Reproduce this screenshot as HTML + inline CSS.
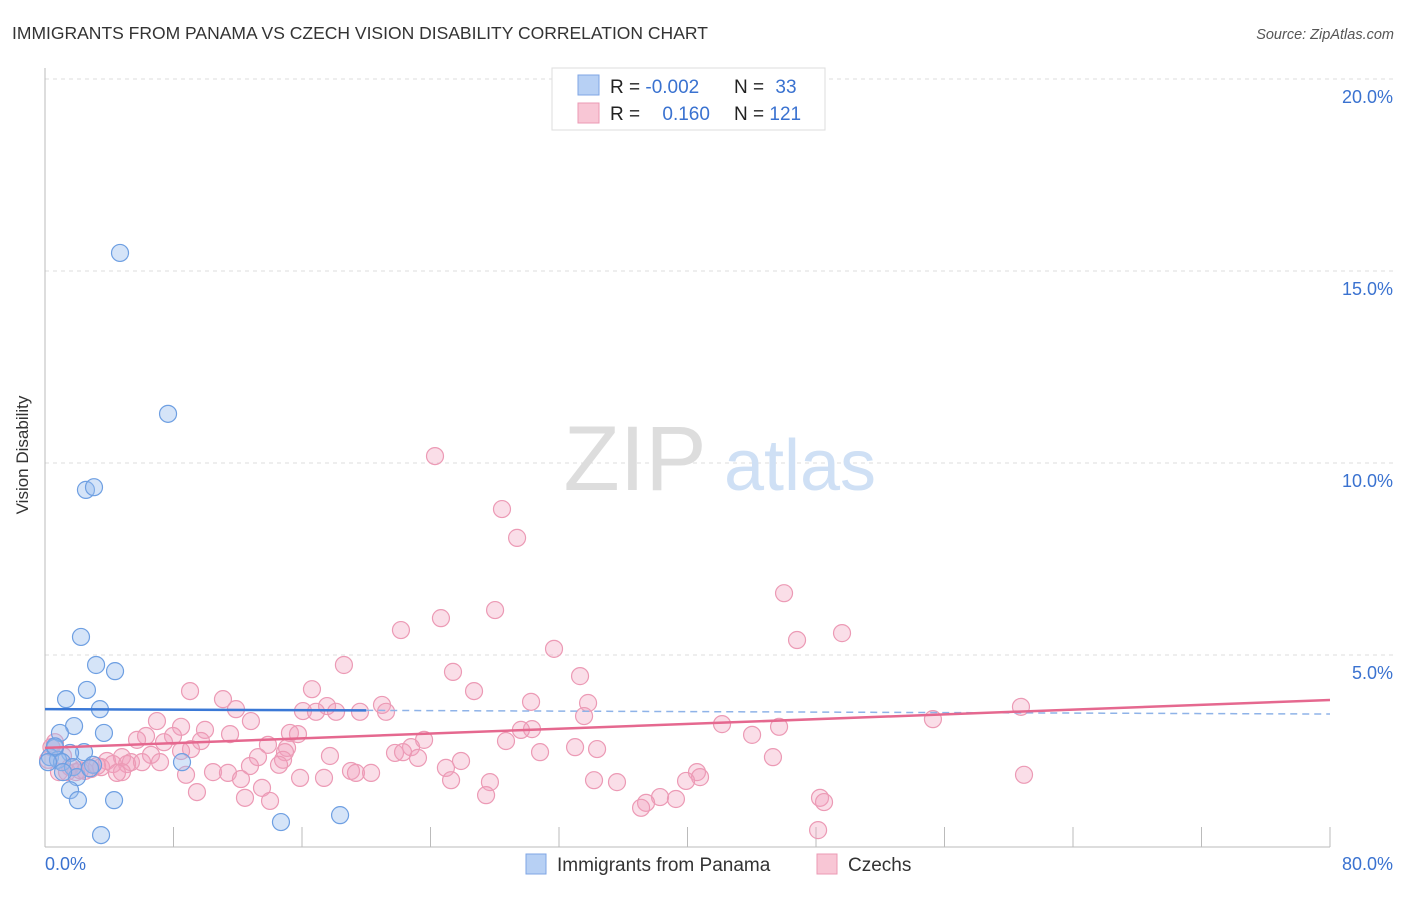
<!DOCTYPE html>
<html><head><meta charset="utf-8"><style>
body{margin:0;background:#fff;font-family:"Liberation Sans",sans-serif}
svg text{font-family:"Liberation Sans",sans-serif}
</style></head><body>
<svg id="c" width="1406" height="892">
<text x="12" y="39" font-size="17.5" fill="#333">IMMIGRANTS FROM PANAMA VS CZECH VISION DISABILITY CORRELATION CHART</text>
<text x="1394" y="39" font-size="14.5" fill="#555" text-anchor="end" font-style="italic">Source: ZipAtlas.com</text>
<text x="28" y="455" font-size="17" fill="#333" text-anchor="middle" transform="rotate(-90 28 455)">Vision Disability</text>
<g id="grid"></g>
<g id="wm">
<text x="635" y="490" font-size="92" fill="#ddd" font-family="Liberation Serif" text-anchor="middle">ZIP</text>
<text x="800" y="490" font-size="72" fill="#cfe0f5" text-anchor="middle">atlas</text></g>
<g id="axes"></g>
<g id="pts"></g>
<g id="trend"></g>
<g>
<rect x="552" y="68" width="273" height="62" fill="#fff" stroke="#ddd"/>
<rect x="578" y="75" width="21" height="20" fill="#b7d0f4" stroke="#7fa6e4"/>
<rect x="578" y="103" width="21" height="20" fill="#f8c6d5" stroke="#eb9ab4"/>
<text x="610" y="93" font-size="19" fill="#222">R = <tspan fill="#3a72d0">-0.002</tspan></text>
<text x="734" y="93" font-size="19" fill="#222">N = <tspan fill="#3a72d0" dx="6">33</tspan></text>
<text x="610" y="120" font-size="19" fill="#222">R = <tspan fill="#3a72d0" dx="17">0.160</tspan></text>
<text x="734" y="120" font-size="19" fill="#222">N = <tspan fill="#3a72d0">121</tspan></text>
</g>
<g>
<rect x="526" y="854" width="20" height="20" fill="#b7d0f4" stroke="#7fa6e4"/>
<text x="557" y="871" font-size="19" fill="#333">Immigrants from Panama</text>
<rect x="817" y="854" width="20" height="20" fill="#f8c6d5" stroke="#eb9ab4"/>
<text x="848" y="871" font-size="19" fill="#333">Czechs</text>
</g>
</svg>
<script>
const yTicks=[5,10,15,20];
const yTickLabels=["5.0%","10.0%","15.0%","20.0%"];
const xTicks=[0,8,16,24,32,40,48,56,64,72,80];
const xTickLabels=["0.0%","80.0%"];
const panamaX=[4.67,7.66,2.55,3.05,2.24,3.18,4.36,1.31,2.61,3.42,1.81,0.93,3.67,2.43,1.56,0.62,0.31,0.81,1.06,1.74,2.99,1.99,1.56,2.05,4.30,8.53,3.49,14.69,18.37,0.62,0.19,1.12,2.80];
const panamaY=[15.47,11.28,9.30,9.37,5.47,4.74,4.58,3.85,4.09,3.59,3.15,2.97,2.97,2.47,2.45,2.58,2.34,2.27,2.21,2.08,2.14,1.82,1.48,1.22,1.22,2.21,0.31,0.65,0.83,2.62,2.21,1.95,2.05];
const czechX=[24.28,28.45,29.39,46.01,28.02,24.65,22.16,49.62,46.82,31.69,18.61,25.40,33.31,9.03,16.62,26.71,11.08,11.89,16.06,17.56,20.98,30.26,33.81,16.87,18.12,19.61,21.23,33.56,60.76,55.28,6.97,12.82,42.15,45.70,8.47,9.96,15.25,15.75,30.32,29.63,6.29,7.97,5.73,7.41,11.52,9.71,23.60,44.02,13.88,15.07,22.79,28.70,33.00,34.37,9.09,8.47,17.74,21.79,22.29,23.22,30.82,6.60,4.79,3.86,5.35,14.94,14.82,7.16,13.26,25.90,45.32,12.76,14.57,24.96,40.59,40.78,60.95,2.86,3.49,4.23,5.11,6.04,4.79,4.48,8.78,10.46,11.39,12.20,15.88,17.37,19.05,19.36,20.30,25.28,27.70,34.18,35.61,39.91,13.51,9.46,12.45,14.01,27.46,38.29,39.28,37.42,37.11,48.25,48.50,48.13,0.87,1.56,1.93,0.62,1.12,2.49,3.24,0.19,1.37,2.18,0.40];
const czechY=[10.18,8.80,8.05,6.61,6.17,5.96,5.65,5.57,5.39,5.16,4.74,4.56,4.45,4.06,4.11,4.06,3.85,3.59,3.54,3.67,3.70,3.78,3.75,3.52,3.52,3.52,3.52,3.41,3.65,3.33,3.28,3.28,3.20,3.13,3.13,3.05,2.97,2.94,3.07,3.05,2.89,2.89,2.79,2.73,2.94,2.76,2.79,2.92,2.66,2.58,2.60,2.76,2.60,2.55,2.55,2.50,2.37,2.45,2.47,2.32,2.47,2.40,2.34,2.24,2.21,2.47,2.27,2.21,2.34,2.24,2.34,2.11,2.14,2.06,1.95,1.82,1.88,2.03,2.08,2.16,2.16,2.21,1.95,1.93,1.88,1.95,1.93,1.77,1.80,1.80,1.98,1.93,1.93,1.74,1.69,1.74,1.69,1.72,1.54,1.43,1.28,1.20,1.35,1.30,1.25,1.15,1.02,1.28,1.17,0.44,1.95,2.08,1.95,2.73,2.37,1.98,2.11,2.27,1.95,2.00,2.60];
const panamaTrend=[3.59,-0.0016]; // intercept, slope
const czechTrend=[2.58,0.0156];
const NS="http://www.w3.org/2000/svg";
const X0=45,X1=1330,Y0=847,YPER=38.4;
const sx=v=>X0+v/80*(X1-X0);
const sy=v=>Y0-v*YPER;
function mk(t,p,a){const e=document.createElementNS(NS,t);for(const k in a)e.setAttribute(k,a[k]);p.appendChild(e);return e;}
const grid=document.getElementById('grid'),axes=document.getElementById('axes');
yTicks.forEach((v,i)=>{
 const l=mk('line',grid,{x1:X0,x2:1394,y1:sy(v),y2:sy(v),stroke:'#ddd','stroke-dasharray':'4 4'});
 
 
 const t=mk('text',axes,{x:1393,y:sy(v)+24,'font-size':18,fill:'#3a72d0','text-anchor':'end'});
 t.textContent=yTickLabels[i];
 
 
});
const ya=mk('line',axes,{x1:X0,x2:X0,y1:68,y2:Y0,stroke:'#bbb'});


const xa=mk('line',axes,{x1:X0,x2:X1,y1:Y0,y2:Y0,stroke:'#bbb'});


xTicks.forEach(v=>{
 const l=mk('line',axes,{x1:sx(v),x2:sx(v),y1:Y0,y2:Y0-20,stroke:'#bbb'});
 
 
});
[[xTickLabels[0],X0,'start'],[xTickLabels[1],1393,'end']].forEach(([s,x,a])=>{
 const t=mk('text',axes,{x:x,y:870,'font-size':18,fill:'#3a72d0','text-anchor':a});
 t.textContent=s;
 
 
});
const pts=document.getElementById('pts');
czechX.forEach((v,i)=>{
 const c=mk('circle',pts,{cx:sx(v),cy:sy(czechY[i]),r:8.5,fill:'rgba(242,160,188,0.35)',stroke:'#ec9ab5','stroke-width':1.2});
 
 
});
panamaX.forEach((v,i)=>{
 const c=mk('circle',pts,{cx:sx(v),cy:sy(panamaY[i]),r:8.5,fill:'rgba(150,188,238,0.4)',stroke:'#6e9fe2','stroke-width':1.2});
 
 
});
const tr=document.getElementById('trend');
const pt=x=>panamaTrend[0]+panamaTrend[1]*x, ct=x=>czechTrend[0]+czechTrend[1]*x;
const b1=mk('line',tr,{x1:sx(0),y1:sy(pt(0)),x2:sx(20),y2:sy(pt(20)),stroke:'#3a78d6','stroke-width':2.5});


const b2=mk('line',tr,{x1:sx(20),y1:sy(pt(20)),x2:sx(80),y2:sy(pt(80)),stroke:'#8fb3e8','stroke-width':1.5,'stroke-dasharray':'7 5'});


const c1=mk('line',tr,{x1:sx(0),y1:sy(ct(0)),x2:sx(80),y2:sy(ct(80)),stroke:'#e5688f','stroke-width':2.5});


</script>
</body></html>
